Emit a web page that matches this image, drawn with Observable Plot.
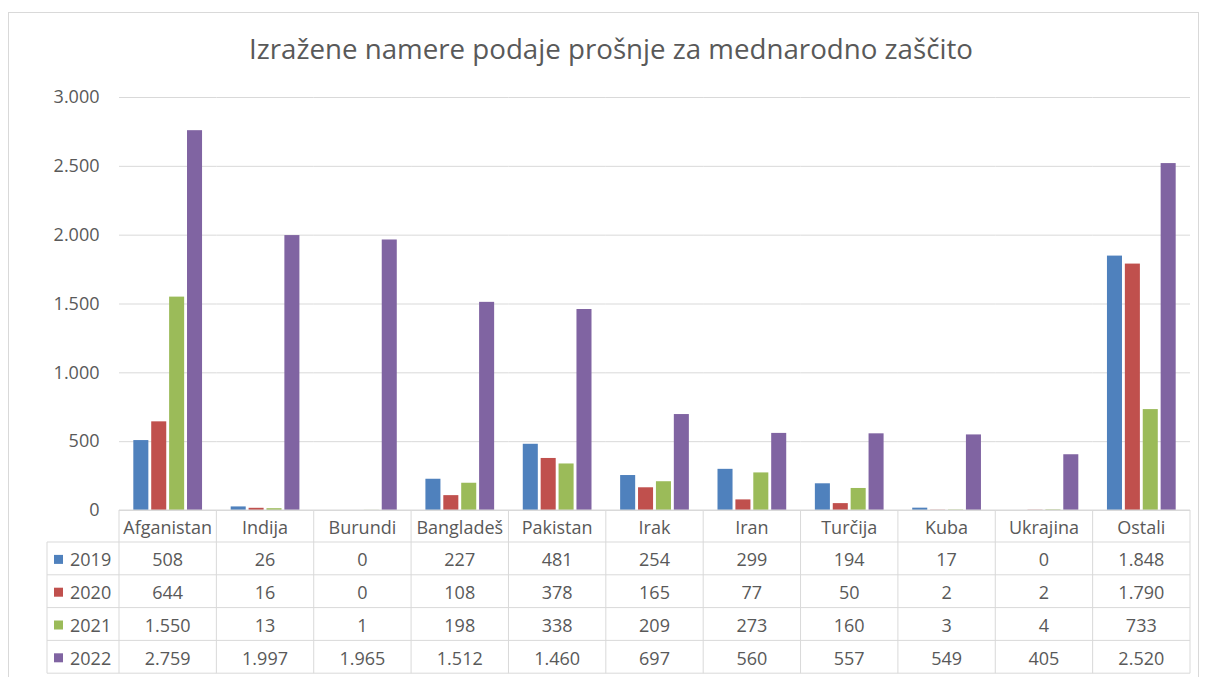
<!DOCTYPE html>
<html>
<head>
<meta charset="utf-8">
<script src="https://cdn.jsdelivr.net/npm/d3@7"></script>
<script src="https://cdn.jsdelivr.net/npm/@observablehq/plot@0.6"></script>
<style>
  html, body { margin: 0; padding: 0; background: #fff; overflow: hidden; }
  #wrap { position: relative; width: 1206px; height: 677px; font-family: "Open Sans", sans-serif; }
  #frame { position: absolute; left: 8px; top: 12px; width: 1191px; height: 720px; border: 1px solid #d9d9d9; box-sizing: border-box; }
  #title { position: absolute; left: 0; top: 29px; width: 1222px; text-align: center; font-size: 27.7px; color: #595959; white-space: nowrap; }
  #chart { position: absolute; left: 0; top: 0; }
</style>
</head>
<body>
<div id="wrap">
  <div id="frame"></div>
  <div id="title">Izražene namere podaje prošnje za mednarodno zaščito</div>
  <div id="chart"></div>
</div>
<script>
const countries = ["Afganistan","Indija","Burundi","Bangladeš","Pakistan","Irak","Iran","Turčija","Kuba","Ukrajina","Ostali"];
const years = ["2019","2020","2021","2022"];
const v2019 = [508,26,0,227,481,254,299,194,17,0,1848];
const v2020 = [644,16,0,108,378,165,77,50,2,2,1790];
const v2021 = [1550,13,1,198,338,209,273,160,3,4,733];
const v2022 = [2759,1997,1965,1512,1460,697,560,557,549,405,2520];
const colors = ["#4f81bd","#c0504d","#9bbb59","#8064a2"];
const yTicks = [0,500,1000,1500,2000,2500,3000];

const series = [v2019, v2020, v2021, v2022];
const data = [];
countries.forEach((c, i) => years.forEach((y, j) => data.push({country: c, year: y, value: series[j][i]})));

const fmt = d => d3.format(",")(d).replace(/,/g, ".");
const textColor = "#595959";
const lineColor = "#d9d9d9";

const chart = Plot.plot({
  width: 1206,
  height: 677,
  marginTop: 97,
  marginBottom: 167,
  marginLeft: 119,
  marginRight: 16,
  style: {fontFamily: "Open Sans, sans-serif", background: "transparent", overflow: "visible"},
  fx: {domain: countries, padding: 0, round: false, axis: null},
  x: {domain: years, paddingInner: 0.16, paddingOuter: 0.8, round: false, axis: null},
  y: {domain: [0, 3000], axis: null},
  color: {domain: years, range: colors},
  marks: [
    Plot.gridY(yTicks, {stroke: lineColor, strokeOpacity: 1, strokeWidth: 1}),
    Plot.axisY(yTicks, {tickSize: 0, tickPadding: 20, tickFormat: fmt, fontSize: 18, fill: textColor, label: null}),
    Plot.barY(data, {fx: "country", x: "year", y: "value", fill: "year"})
  ]
});
document.getElementById("chart").appendChild(chart);

// Data table below the plot, aligned on Plot's fx scale
const fx = chart.scale("fx");
const yS = chart.scale("y");
const svg = d3.select(chart);
const g = svg.append("g").attr("font-family", "Open Sans, sans-serif").attr("font-size", 18).attr("fill", textColor);
const tTop = yS.apply(0);
const headerH = 32;
const rowH = 32.8;
const left0 = fx.apply(countries[0]);
const right0 = fx.apply(countries[countries.length - 1]) + fx.bandwidth;
const legendLeft = 47;
const tBottom = tTop + headerH + rowH * years.length;

g.append("line").attr("x1", left0).attr("x2", right0).attr("y1", tTop).attr("y2", tTop).attr("stroke", lineColor);
for (let r = 0; r <= years.length; r++) {
  const yy = tTop + headerH + rowH * r;
  g.append("line").attr("x1", legendLeft).attr("x2", right0).attr("y1", yy).attr("y2", yy).attr("stroke", lineColor);
}
g.append("line").attr("x1", legendLeft).attr("x2", legendLeft).attr("y1", tTop + headerH).attr("y2", tBottom).attr("stroke", lineColor);
countries.forEach(c => {
  const xx = fx.apply(c);
  g.append("line").attr("x1", xx).attr("x2", xx).attr("y1", tTop).attr("y2", tBottom).attr("stroke", lineColor);
});
g.append("line").attr("x1", right0).attr("x2", right0).attr("y1", tTop).attr("y2", tBottom).attr("stroke", lineColor);

countries.forEach(c => {
  g.append("text").attr("x", fx.apply(c) + fx.bandwidth / 2).attr("y", tTop + headerH / 2 + 1)
    .attr("text-anchor", "middle").attr("dominant-baseline", "central").text(c);
});
years.forEach((yr, j) => {
  const cy = tTop + headerH + rowH * j + rowH / 2 + 1;
  g.append("rect").attr("x", 54).attr("y", cy - 4.5).attr("width", 9).attr("height", 9).attr("fill", colors[j]);
  g.append("text").attr("x", 70).attr("y", cy).attr("text-anchor", "start").attr("dominant-baseline", "central").text(yr);
  countries.forEach((c, i) => {
    g.append("text").attr("x", fx.apply(c) + fx.bandwidth / 2).attr("y", cy)
      .attr("text-anchor", "middle").attr("dominant-baseline", "central").text(fmt(series[j][i]));
  });
});
</script>
</body>
</html>
